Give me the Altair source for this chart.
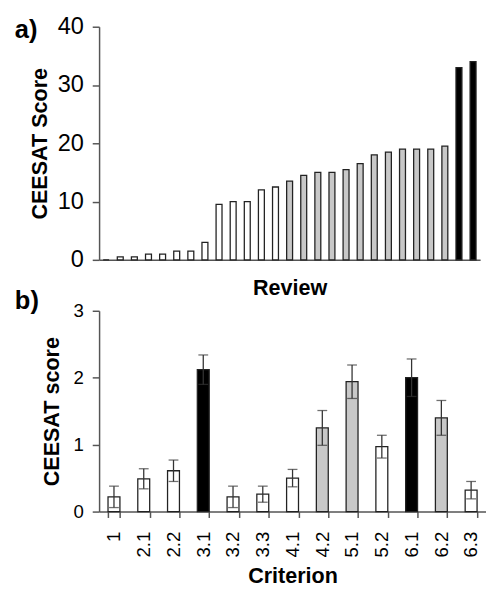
import altair as alt
import pandas as pd

FONT = "Liberation Sans"

# Panel a) data
review_scores = [0, 0.5, 0.5, 1, 1, 1.5, 1.5, 3, 9.5, 10, 10, 12, 12.5,
                 13.5, 14.5, 15, 15, 15.5, 16.5, 18, 18.5, 19, 19, 19, 19.5,
                 33, 34]
review_groups = ["white"] * 13 + ["grey"] * 12 + ["black"] * 2

# Panel b) data
criteria = ["1", "2.1", "2.2", "3.1", "3.2", "3.3", "4.1", "4.2", "5.1", "5.2", "6.1", "6.2", "6.3"]
crit_means = [0.22, 0.49, 0.61, 2.12, 0.22, 0.26, 0.50, 1.25, 1.94, 0.97, 2.00, 1.40, 0.32]
crit_errors = [0.16, 0.15, 0.16, 0.22, 0.16, 0.12, 0.13, 0.26, 0.25, 0.17, 0.28, 0.26, 0.13]
crit_groups = ["white", "white", "white", "black", "white", "white", "white",
               "grey", "grey", "white", "black", "grey", "white"]

fill_scale = alt.Scale(domain=["white", "grey", "black"], range=["#ffffff", "#c8c8c8", "#000000"])
AX = "#555555"

top_df = pd.DataFrame({"review": list(range(1, len(review_scores) + 1)),
                       "score": review_scores, "group": review_groups})

top_bars = alt.Chart(top_df).mark_bar(stroke="#222222", strokeWidth=1.3).encode(
    x=alt.X("review:O", sort=None,
            scale=alt.Scale(paddingInner=0.58, paddingOuter=0.29),
            axis=alt.Axis(title="Review", labels=False, ticks=False, domainColor=AX, domainWidth=1.5,
                          titleFont=FONT, titleFontSize=22, titleFontWeight="bold", titleColor="#000",
                          titlePadding=18)),
    y=alt.Y("score:Q", scale=alt.Scale(domain=[0, 40]),
            axis=alt.Axis(title="CEESAT Score", values=[0, 10, 20, 30, 40], grid=False, format="d",
                          domainColor=AX, domainWidth=1.5, tickColor=AX, tickWidth=1.5, tickSize=7,
                          labelFont=FONT, labelFontSize=24, labelColor="#000", labelPadding=9,
                          titleFont=FONT, titleFontSize=22, titleFontWeight="bold", titleColor="#000",
                          titlePadding=6)),
    fill=alt.Fill("group:N", scale=fill_scale, legend=None),
)

a_label = alt.Chart(alt.Data(values=[{"t": "a)"}])).mark_text(
    text="a)", align="left", baseline="alphabetic", font=FONT, fontSize=26, fontWeight="bold", color="#000"
).encode(x=alt.value(-86), y=alt.value(11))

top = alt.layer(top_bars, a_label).properties(width=389, height=238)

bot_df = pd.DataFrame({"criterion": criteria, "mean": crit_means, "err": crit_errors, "group": crit_groups})
bot_df["lo"] = bot_df["mean"] - bot_df["err"]
bot_df["hi"] = bot_df["mean"] + bot_df["err"]

xb = alt.X("criterion:N", sort=criteria,
           scale=alt.Scale(paddingInner=0.6, paddingOuter=0.3),
           axis=alt.Axis(title="Criterion", labelAngle=270, tickBand="extent",
                         domainColor=AX, domainWidth=1.5, tickColor=AX, tickWidth=1.5, tickSize=6,
                         labelFont=FONT, labelFontSize=19, labelColor="#000", labelPadding=14,
                         titleFont=FONT, titleFontSize=22, titleFontWeight="bold", titleColor="#000",
                         titlePadding=9))
yaxis_b = alt.Axis(title="CEESAT score", values=[0, 1, 2, 3], grid=False, format="d",
                   domainColor=AX, domainWidth=1.5, tickColor=AX, tickWidth=1.5, tickSize=7,
                   labelFont=FONT, labelFontSize=19, labelColor="#000", labelPadding=9,
                   titleFont=FONT, titleFontSize=22, titleFontWeight="bold", titleColor="#000",
                   titlePadding=10)
yscale_b = alt.Scale(domain=[0, 3])

base_b = alt.Chart(bot_df)
bars_b = base_b.mark_bar(stroke="#222222", strokeWidth=1.3).encode(
    x=xb,
    y=alt.Y("mean:Q", scale=yscale_b, axis=yaxis_b, title="CEESAT score"),
    fill=alt.Fill("group:N", scale=fill_scale, legend=None),
)
rules_b = base_b.mark_rule(color="#333333", strokeWidth=1.3).encode(
    x=alt.X("criterion:N", sort=criteria),
    y=alt.Y("lo:Q", title="CEESAT score"),
    y2="hi:Q",
)
cap_hi = base_b.mark_tick(color="#333333", size=10, thickness=1.3).encode(
    x=alt.X("criterion:N", sort=criteria),
    y=alt.Y("hi:Q", title="CEESAT score"),
)
cap_lo = base_b.mark_tick(color="#333333", size=10, thickness=1.3).encode(
    x=alt.X("criterion:N", sort=criteria),
    y=alt.Y("lo:Q", title="CEESAT score"),
)
b_label = alt.Chart(alt.Data(values=[{"t": "b)"}])).mark_text(
    text="b)", align="left", baseline="alphabetic", font=FONT, fontSize=26, fontWeight="bold", color="#000"
).encode(x=alt.value(-86), y=alt.value(-2))

bottom = alt.layer(bars_b, rules_b, cap_hi, cap_lo, b_label).properties(width=395, height=205)

chart = alt.vconcat(top, bottom, spacing=52, bounds="flush").properties(
    padding={"left": 7, "top": 1, "right": 0, "bottom": 0}
).configure_view(stroke=None)

chart.save("out.html", embed_options={"renderer": "svg", "actions": False})
